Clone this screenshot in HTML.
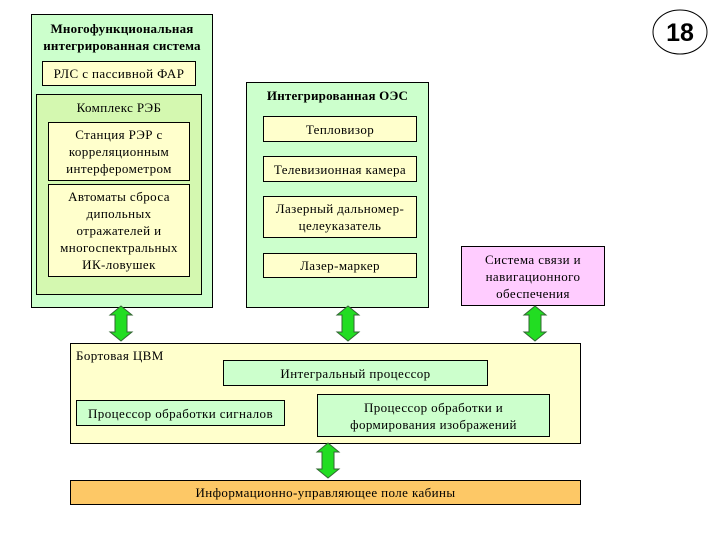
<!DOCTYPE html>
<html><head><meta charset="utf-8"><style>
body{margin:0;width:720px;height:540px;background:#fff;position:relative;overflow:hidden;font-family:"Liberation Serif","Noto Serif CJK SC",serif;color:#000}
.b{position:absolute;box-sizing:border-box;border:1px solid #000;text-align:center;font-size:13px;letter-spacing:0.4px;line-height:17px;display:flex;align-items:center;justify-content:center;white-space:nowrap}
.y{background:#ffffcc}
.g{background:#ccffcc}
.t{position:absolute;text-align:center;font-size:13px;letter-spacing:0.4px;line-height:17px;white-space:nowrap}
svg{position:absolute;left:0;top:0}
</style></head><body>
<div class="b g" style="left:31px;top:14px;width:182px;height:294px"></div>
<div class="t" style="left:31px;top:20px;width:182px;font-weight:bold;letter-spacing:0.2px">Многофункциональная<br>интегрированная система</div>
<div class="b y" style="left:42px;top:61px;width:154px;height:25px">РЛС с пассивной ФАР</div>
<div class="b" style="left:36px;top:94px;width:166px;height:201px;background:#d4f8b0"></div>
<div class="t" style="left:36px;top:99px;width:166px">Комплекс РЭБ</div>
<div class="b y" style="left:48px;top:122px;width:142px;height:59px">Станция РЭР с<br>корреляционным<br>интерферометром</div>
<div class="b y" style="left:48px;top:184px;width:142px;height:93px">Автоматы сброса<br>дипольных<br>отражателей и<br>многоспектральных<br>ИК-ловушек</div>

<div class="b g" style="left:246px;top:82px;width:183px;height:226px"></div>
<div class="t" style="left:246px;top:87px;width:183px;font-weight:bold;letter-spacing:0.2px">Интегрированная ОЭС</div>
<div class="b y" style="left:263px;top:116px;width:154px;height:26px">Тепловизор</div>
<div class="b y" style="left:263px;top:156px;width:154px;height:26px">Телевизионная камера</div>
<div class="b y" style="left:263px;top:196px;width:154px;height:42px">Лазерный дальномер-<br>целеуказатель</div>
<div class="b y" style="left:263px;top:253px;width:154px;height:25px">Лазер-маркер</div>

<div class="b" style="left:461px;top:246px;width:144px;height:60px;background:#ffccff">Система связи и<br>навигационного<br>обеспечения</div>

<div class="b y" style="left:70px;top:343px;width:511px;height:101px"></div>
<div class="t" style="left:76px;top:347px;text-align:left">Бортовая ЦВМ</div>
<div class="b g" style="left:223px;top:360px;width:265px;height:26px">Интегральный процессор</div>
<div class="b g" style="left:76px;top:400px;width:209px;height:26px">Процессор обработки сигналов</div>
<div class="b g" style="left:317px;top:394px;width:233px;height:43px">Процессор обработки и<br>формирования изображений</div>

<div class="b" style="left:70px;top:480px;width:511px;height:25px;background:#fdc866">Информационно-управляющее поле кабины</div>

<svg width="720" height="540">
<defs><path id="a" d="M0,0 L11,9 L6,9 L6,26 L11,26 L0,35 L-11,26 L-6,26 L-6,9 L-11,9 Z" fill="#22dd22" stroke="#336633" stroke-width="1"/></defs>
<use href="#a" x="121" y="306"/>
<use href="#a" x="348" y="306"/>
<use href="#a" x="535" y="306"/>
<use href="#a" x="328" y="443"/>
<ellipse cx="680" cy="32" rx="27" ry="22" fill="#fff" stroke="#000" stroke-width="1"/>
<text x="680" y="41" text-anchor="middle" font-family="Liberation Sans, sans-serif" font-weight="bold" font-size="25">18</text>
</svg>
</body></html>
